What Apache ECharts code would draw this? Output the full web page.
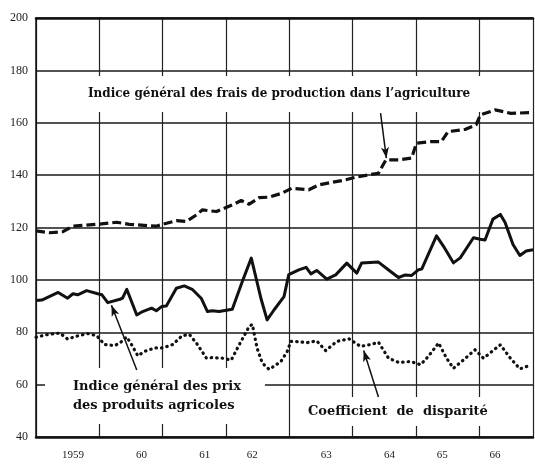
<!DOCTYPE html>
<html>
<head>
<meta charset="utf-8">
<script src="https://cdn.jsdelivr.net/npm/echarts@6/dist/echarts.min.js"></script>
<style>
  html, body { margin: 0; padding: 0; background: #fff; }
  #chart { width: 535px; height: 465px; }
</style>
</head>
<body>
<div id="chart"></div>
<script>
// x = mois depuis janvier 1959, y = indice
var fraisProduction = [
  [0, 118.7], [2.6, 118.0], [5.1, 118.4], [7.0, 120.5], [11.5, 121.2], [15.3, 122.0],
  [17.7, 121.2], [22.8, 120.5], [24.0, 121.2], [26.6, 122.6], [28.5, 122.3], [30.4, 124.8],
  [31.5, 126.7], [34.2, 126.1], [36.0, 127.6], [37.2, 128.6], [38.9, 130.3], [40.4, 128.9],
  [42.3, 131.4], [44.2, 131.6], [46.6, 133.1], [48.5, 135.0], [51.7, 134.4], [53.6, 136.3],
  [58.7, 138.2], [60.6, 139.2], [63.0, 140.1], [64.9, 140.7], [66.3, 145.8], [68.7, 145.8],
  [71.2, 146.5], [72.1, 152.2], [74.9, 152.8], [76.8, 152.8], [78.1, 156.6], [81.4, 157.5],
  [83.4, 159.2], [84.2, 163.0], [87.0, 164.9], [90.0, 163.6], [94.2, 163.9]
];
var prixAgricoles = [
  [0, 92.1], [1.1, 92.3], [4.2, 95.2], [6.0, 93.0], [7.0, 94.7], [7.9, 94.3], [9.6, 95.9],
  [11.7, 94.7], [12.5, 94.3], [13.6, 91.3], [15.9, 92.6], [16.4, 93.0], [17.2, 96.4],
  [19.1, 86.6], [20.2, 87.9], [21.9, 89.2], [22.8, 88.2], [23.8, 89.8], [24.7, 90.0],
  [26.6, 96.8], [28.1, 97.7], [29.6, 96.4], [31.3, 93.0], [32.5, 87.9], [33.4, 88.2],
  [34.7, 87.9], [37.2, 88.8], [39.1, 99.4], [40.8, 108.3], [42.7, 92.4], [43.8, 84.7],
  [45.1, 88.5], [47.0, 93.6], [47.9, 102.0], [49.8, 103.8], [51.2, 104.8], [52.1, 102.3],
  [53.2, 103.6], [55.1, 100.3], [56.8, 101.9], [58.9, 106.4], [60.8, 102.6], [61.7, 106.4],
  [64.9, 106.8], [67.2, 103.2], [68.7, 100.9], [70.0, 101.9], [71.2, 101.7], [72.5, 103.9],
  [73.1, 104.1], [75.9, 116.8], [77.2, 112.9], [79.1, 106.5], [80.4, 108.4], [82.9, 116.1],
  [84.2, 115.5], [85.1, 115.2], [86.6, 123.2], [88.0, 125.0], [88.9, 121.9], [90.4, 113.5],
  [91.7, 109.3], [92.9, 111.0], [94.2, 111.5]
];
var disparite = [
  [0, 78.1], [2.1, 79.1], [4.5, 79.7], [6.0, 77.4], [7.7, 78.5], [9.8, 79.5], [11.5, 78.7],
  [13.0, 75.3], [14.9, 74.9], [15.9, 75.9], [17.2, 78.2], [18.1, 75.3], [19.3, 71.0],
  [20.6, 72.7], [22.5, 74.0], [24.0, 74.0], [25.9, 75.3], [27.7, 78.7], [29.1, 79.1],
  [30.6, 75.3], [32.3, 70.1], [33.4, 70.3], [35.3, 70.1], [37.0, 69.4], [38.5, 75.2],
  [40.4, 82.2], [41.0, 83.0], [41.9, 73.9], [42.9, 68.2], [44.2, 65.8], [46.4, 68.8],
  [47.6, 72.6], [48.3, 76.5], [49.8, 76.4], [51.3, 76.0], [53.2, 76.7], [54.9, 73.0],
  [57.0, 76.5], [59.3, 77.5], [61.5, 74.6], [63.6, 75.4], [64.9, 76.2], [66.8, 70.1],
  [68.7, 68.5], [71.0, 68.8], [72.9, 67.6], [74.4, 70.9], [76.3, 75.9], [77.8, 70.1],
  [79.1, 66.2], [81.0, 69.4], [83.2, 73.3], [84.8, 70.1], [88.0, 75.2], [89.9, 70.1],
  [91.7, 66.0], [93.8, 67.5]
];
// libellés des années (position en mois)
var anneeMois = [7, 20, 32, 41, 55, 67, 77, 87];
var anneeLabels = ['1959', '60', '61', '62', '63', '64', '65', '66'];
var yTicks = { min: 40, max: 200, interval: 20 };
var xMax = 94.2;

var serif = '"Liberation Serif", "DejaVu Serif", serif';
var serifLarge = '"DejaVu Serif", serif';
var ink = '#111';

var chart = echarts.init(document.getElementById('chart'), null, { renderer: 'canvas' });

var option = {
  backgroundColor: '#fff',
  animation: false,
  grid: { left: 36, right: 0, top: 18, bottom: 28, containLabel: false },
  xAxis: [{
    type: 'value', position: 'bottom', min: 0, max: xMax, interval: 12,
    axisLine: { show: true, lineStyle: { color: ink, width: 2.5 } },
    axisTick: { show: false },
    axisLabel: { show: false },
    splitLine: { show: true, lineStyle: { color: '#222', width: 1.2 } }
  }, {
    type: 'value', position: 'bottom', min: 0, max: xMax, interval: 1,
    axisLine: { show: false },
    axisTick: { show: false },
    splitLine: { show: false },
    axisLabel: {
      show: true, margin: 13, fontFamily: serif, fontSize: 11, color: '#222',
      showMinLabel: false, showMaxLabel: false,
      formatter: function (v) {
        var i = anneeMois.indexOf(Math.round(v));
        return i >= 0 ? anneeLabels[i] : '';
      }
    }
  }, {
    type: 'value', position: 'top', min: 0, max: xMax, interval: 12,
    axisLine: { show: true, lineStyle: { color: ink, width: 2.5 } },
    axisTick: { show: false },
    axisLabel: { show: false },
    splitLine: { show: false }
  }],
  yAxis: {
    type: 'value', min: yTicks.min, max: yTicks.max, interval: yTicks.interval,
    axisLine: { show: true, lineStyle: { color: ink, width: 1.5 } },
    axisTick: { show: false },
    axisLabel: { margin: 8, fontFamily: serif, fontSize: 12, color: '#222' },
    splitLine: { show: true, lineStyle: { color: '#1a1a1a', width: 1.6 } }
  },
  series: [{
    name: 'Indice général des frais de production dans l\'agriculture',
    type: 'line', data: fraisProduction, showSymbol: false, z: 5,
    lineStyle: { color: ink, width: 3.2, type: [9, 4], cap: 'butt', join: 'round' },
    markLine: {
      silent: true, symbol: ['none', 'arrow'], symbolSize: [6, 11], label: { show: false },
      lineStyle: { color: ink, width: 1.5, type: 'solid' },
      data: [[{ coord: [65.3, 163.7] }, { coord: [66.4, 146.5] }]]
    }
  }, {
    name: 'Indice général des prix des produits agricoles',
    type: 'line', data: prixAgricoles, showSymbol: false, z: 5,
    lineStyle: { color: ink, width: 3, type: 'solid', join: 'round' },
    markLine: {
      silent: true, symbol: ['none', 'arrow'], symbolSize: [6, 11], label: { show: false },
      lineStyle: { color: ink, width: 1.5, type: 'solid' },
      data: [[{ coord: [19.1, 65.6] }, { coord: [14.3, 90.3] }]]
    }
  }, {
    name: 'Coefficient de disparité',
    type: 'line', data: disparite, showSymbol: false, z: 5,
    lineStyle: { color: ink, width: 3.2, type: [0.5, 5], cap: 'round', join: 'round' },
    markLine: {
      silent: true, symbol: ['none', 'arrow'], symbolSize: [6, 11], label: { show: false },
      lineStyle: { color: ink, width: 1.5, type: 'solid' },
      data: [[{ coord: [64.9, 55.3] }, { coord: [62.1, 73.0] }]]
    }
  }],
  graphic: [{
    type: 'text', left: 45, top: 76, z: 3,
    style: {
      text: 'Indice général des frais de production dans l\u2019agriculture',
      font: 'bold 12px ' + serifLarge, fill: ink,
      backgroundColor: '#fff', padding: [12, 32, 12, 43]
    }
  }, {
    type: 'text', left: 45, top: 368, z: 3,
    style: {
      text: 'Indice général des prix\ndes produits agricoles',
      font: 'bold 13px ' + serifLarge, fill: ink, align: 'center', lineHeight: 19,
      backgroundColor: '#fff', padding: [9, 24, 9, 28]
    }
  }, {
    type: 'text', left: 300, top: 397, z: 3,
    style: {
      text: 'Coefficient  de  disparité',
      font: 'bold 13px ' + serifLarge, fill: ink,
      backgroundColor: '#fff', padding: [8, 43, 8, 8]
    }
  }]
};

chart.setOption(option);
</script>
</body>
</html>
